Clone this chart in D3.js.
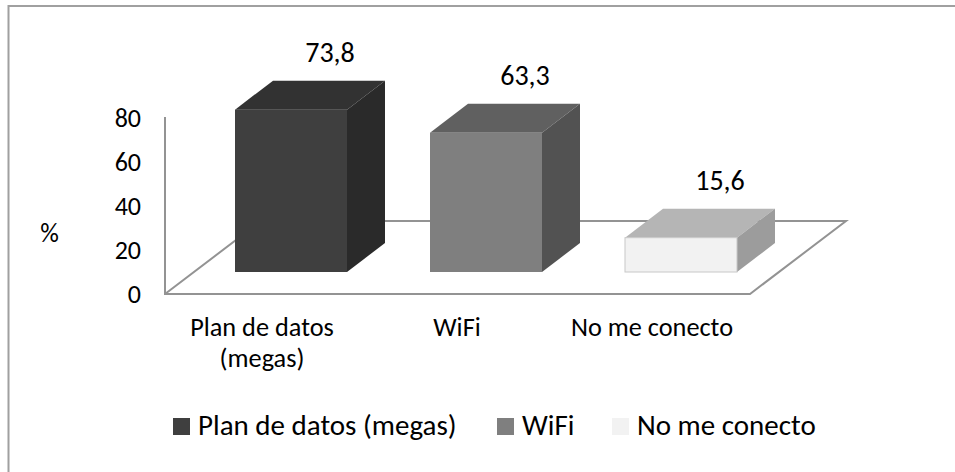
<!DOCTYPE html>
<html><head><meta charset="utf-8">
<script src="https://cdn.jsdelivr.net/npm/d3@7"></script>
<style>html,body{margin:0;padding:0;background:#fff}svg{display:block}text{font-family:Carlito,Calibri,Lato,sans-serif;fill:#000}</style>
</head><body><svg id="c" width="955" height="472"></svg>
<script>
const categories = ["Plan de datos (megas)", "WiFi", "No me conecto"];
const xLabels = [["Plan de datos", "(megas)"], ["WiFi"], ["No me conecto"]];
const values = [73.8, 63.3, 15.6];
const valueLabels = ["73,8", "63,3", "15,6"];
const yTicks = [0, 20, 40, 60, 80];
const frontColors = ["#3f3f3f", "#7f7f7f", "#f2f2f2"];
const topColors = ["#323232", "#606060", "#b5b5b5"];
const sideColors = ["#2a2a2a", "#525252", "#9c9c9c"];

const svg = d3.select("#c");
// chart frame: only top and left edges are visible
svg.append("path").attr("d", d3.line()([[955, 6], [8.5, 6], [8.5, 472]]))
  .attr("fill", "none").attr("stroke", "#a0a0a0").attr("stroke-width", 2);

const y = d3.scaleLinear().domain([0, 80]).range([294, 118]);
const x = d3.scaleBand().domain(categories).range([193.5, 778.5]).paddingInner(83 / 195).paddingOuter(41.5 / 195);
const barBase = 272, dx = 38, dy = -29;
const h = v => y(0) - y(v);

// floor and wall
const floorX0 = 165, floorX1 = 750, floorDx = 96, floorDy = -73;
svg.append("path").attr("fill", "none").attr("stroke", "#939393").attr("stroke-width", 2)
  .attr("d", d3.line()([
    [floorX0, y(80) - 1], [floorX0, y(0)], [floorX1, y(0)], [floorX1 + floorDx, y(0) + floorDy],
    [floorX0 + floorDx, y(0) + floorDy], [floorX0, y(0)]
  ]));

// y axis
const yg = svg.append("g").attr("transform", "translate(141,0)")
  .call(d3.axisLeft(y).tickValues(yTicks).tickSize(0).tickPadding(0));
yg.select(".domain").remove();
yg.selectAll("text").style("font-size", "26px").attr("dy", "0.34em").style("font-family", "Carlito,Calibri,Lato,sans-serif");
svg.append("text").attr("x", 49.5).attr("y", 242).attr("text-anchor", "middle").style("font-size", "26px").text("%");

// bars
const bars = svg.selectAll("g.bar").data(categories).join("g").attr("class", "bar");
const line = d3.line();
bars.each(function (c, i) {
  const g = d3.select(this), x0 = x(c), x1 = x0 + x.bandwidth(), t = barBase - h(values[i]);
  g.append("path").attr("d", line([[x0, t], [x0 + dx, t + dy], [x1 + dx, t + dy], [x1, t]]) + "Z").attr("fill", topColors[i]);
  g.append("path").attr("d", line([[x1, t], [x1 + dx, t + dy], [x1 + dx, barBase + dy], [x1, barBase]]) + "Z").attr("fill", sideColors[i]);
  g.append("rect").attr("x", x0).attr("y", t).attr("width", x.bandwidth()).attr("height", barBase - t).attr("fill", frontColors[i])
    .attr("stroke", i === 2 ? "#c8c8c8" : "none");
  g.append("text").attr("x", x0 + 95).attr("y", t + dy - 18.5).attr("text-anchor", "middle").style("font-size", "28px").text(valueLabels[i]);
  xLabels[i].forEach((l, j) => g.append("text").attr("x", x0 + x.bandwidth() / 2 - 29).attr("y", 336 + j * 31)
    .attr("text-anchor", "middle").style("font-size", "26.3px").text(l));
});

// legend
const legendX = [173, 497, 612];
categories.forEach((c, i) => {
  svg.append("rect").attr("x", legendX[i]).attr("y", 418).attr("width", 17).attr("height", 17).attr("fill", frontColors[i]);
  svg.append("text").attr("x", legendX[i] + 25).attr("y", 435).style("font-size", "29px").text(c);
});
</script></body></html>
